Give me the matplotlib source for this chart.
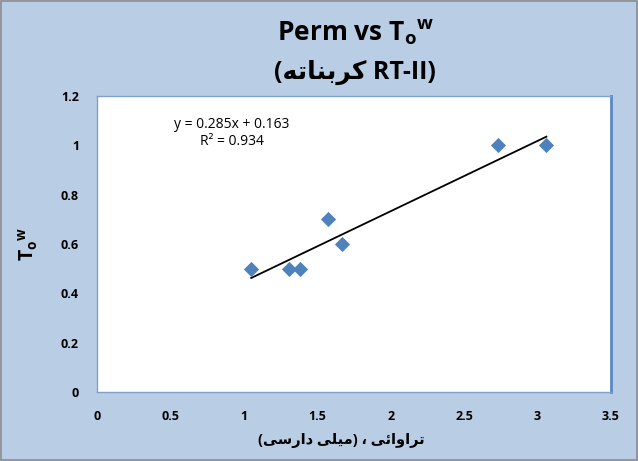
import numpy as np
import matplotlib
matplotlib.use("Agg")
import matplotlib.pyplot as plt
from matplotlib.patches import Rectangle

# data
perm = [1.05, 1.31, 1.38, 1.57, 1.67, 2.73, 3.06]
tow = [0.50, 0.50, 0.50, 0.70, 0.60, 1.00, 1.00]
slope, intercept, r2 = 0.285, 0.163, 0.934
xticks = [0, 0.5, 1, 1.5, 2, 2.5, 3, 3.5]
yticks = [0, 0.2, 0.4, 0.6, 0.8, 1, 1.2]

# Arabic text pre-shaped in visual (left-to-right) order
carbonate = "\uFEEA\uFE97\uFE8E\uFEE8\uFE91\uFEAE\uFEDB"           # کربناته
tarawaei = "\uFEF0\uFE8B\uFE8D\uFEED\uFE8D\uFEAE\uFE97"            # تراوائی
mili = "\uFEF0\uFEE0\uFEF4\uFEE3"                                  # میلی
darsi = "\uFEF0\uFEB3\uFEAD\uFE8D\uFEA9"                           # دارسی
title2 = "(" + carbonate + " RT-II)"
xlabel = "(" + darsi + " " + mili + ") \u060C " + tarawaei

fams = ["Open Sans", "DejaVu Sans"]
plt.rcParams["font.family"] = fams
plt.rcParams["mathtext.fontset"] = "custom"
plt.rcParams["mathtext.rm"] = "Open Sans:bold"
plt.rcParams["mathtext.it"] = "Open Sans:bold"
plt.rcParams["mathtext.bf"] = "Open Sans:bold"

bg = "#B9CDE5"
blue = "#4F81BD"

fig = plt.figure(figsize=(6.38, 4.61), dpi=100, facecolor=bg)
fig.patches.append(Rectangle((0.002, 0.002), 0.996, 0.996, transform=fig.transFigure,
                             fill=False, edgecolor="#8C8C8C", lw=1.2))
ax = fig.add_axes([97 / 638, 69 / 461, 514 / 638, 296 / 461])
ax.set_facecolor("white")

ax.scatter(perm, tow, marker="D", s=60, color=blue, zorder=3, linewidths=0)
xf = np.array([min(perm), max(perm)])
ax.plot(xf, slope * xf + intercept, color="black", lw=1.3, zorder=2)

ax.set_xlim(0, 3.5)
ax.set_ylim(0, 1.2)
ax.set_xticks(xticks)
ax.set_yticks(yticks)
ax.set_xticklabels([f"{t:g}" for t in xticks], fontweight="bold", fontsize=9)
ax.set_yticklabels([f"{t:g}" for t in yticks], fontweight="bold", fontsize=9)
ax.tick_params(length=0, pad=13)
for s in ax.spines.values():
    s.set_color("#7F9FCF")
    s.set_linewidth(1.0)
ax.spines["right"].set_color("#5B86C5")
ax.spines["right"].set_linewidth(2.0)

ax.text(0.262, 0.875, f"y = {slope}x + {intercept}\nR\u00b2 = {r2}", transform=ax.transAxes,
        ha="center", va="center", fontsize=10, linespacing=1.25)

fig.text(0.557, 0.930, r"Perm vs T$_o$$^w$", ha="center", va="center", fontsize=19,
         fontweight="bold")
fig.text(0.557, 0.843, title2, ha="center", va="center", fontsize=18, fontweight="bold",
         family=fams)
fig.text(0.535, 0.045, xlabel, ha="center", va="center", fontsize=10.5, fontweight="bold",
         family=fams)
fig.text(0.045, 0.47, r"T$_o$$^w$", ha="center", va="center", fontsize=14,
         fontweight="bold", rotation=90)

fig.savefig("out.png", dpi=100, facecolor=bg)
